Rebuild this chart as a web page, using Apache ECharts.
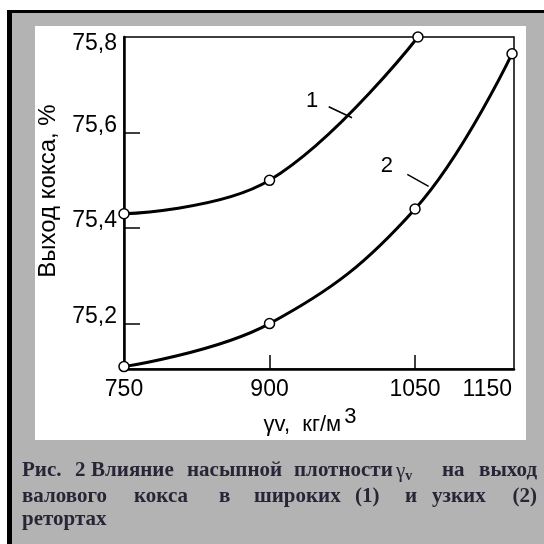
<!DOCTYPE html>
<html>
<head>
<meta charset="utf-8">
<script src="https://cdn.jsdelivr.net/npm/echarts@6.0.0/dist/echarts.min.js"></script>
<style>
  html, body { margin: 0; padding: 0; background: #fff; }
  #chart { width: 544px; height: 544px; }
</style>
</head>
<body>
<div id="chart"></div>
<script>
// кривая 1 - широкие реторты
const x1 = [750, 900, 1053];
const y1 = [75.43, 75.5, 75.8];
// кривая 2 - узкие реторты
const x2 = [750, 900, 1050, 1150];
const y2 = [75.11, 75.2, 75.44, 75.765];

const xLabelValues = [750, 900, 1050, 1150];
const xTickValues = [900, 1050];
const yLabelValues = [75.2, 75.4, 75.6, 75.8];
const yTickValues = [75.2, 75.4, 75.6];

// подписи кривых и выноски (в координатах данных)
const curveNames = ['1', '2'];
const curveLabelAt = [[944, 75.667], [1021, 75.531]];
const leaderFrom = [[961, 75.654], [1042, 75.5125]];
const leaderTo = [[985, 75.631], [1064, 75.4875]];

// подпись рисунка, по словам
const captionLines = [
  [['Рис.', 22], ['2', 75], ['Влияние', 91], ['насыпной', 187], ['плотности', 294], ['{g|γ}{s|v}', 396], ['на', 442], ['выход', 537]],
  [['валового', 22], ['кокса', 134], ['в', 219], ['широких', 254], ['(1)', 355], ['и', 405], ['узких', 432], ['(2)', 537]],
  [['ретортах', 22]]
];
const captionY = [471, 497, 520];

function pairs(xs, ys) {
  return xs.map(function (v, i) { return [v, ys[i]]; });
}

const captionColor = '#2a2536';
let graphics = [
  { type: 'rect', shape: { x: 7, y: 10, width: 537, height: 3 }, style: { fill: '#000' }, z: -10 },
  { type: 'rect', shape: { x: 7, y: 10, width: 5, height: 534 }, style: { fill: '#000' }, z: -10 },
  { type: 'rect', shape: { x: 12, y: 13, width: 532, height: 531 }, style: { fill: '#b3b3b3' }, z: -10 },
  { type: 'rect', shape: { x: 35, y: 26, width: 491, height: 414 }, style: { fill: '#fff' }, z: -9 }
];
captionLines.forEach(function (line, li) {
  line.forEach(function (w, wi) {
    const last = line.length > 1 && wi === line.length - 1;
    graphics.push({
      type: 'text',
      x: w[1],
      y: captionY[li],
      style: {
        text: w[0],
        fill: captionColor,
        font: 'bold 21px "Liberation Serif"',
        align: last ? 'right' : 'left',
        verticalAlign: 'middle',
        rich: {
          g: { fontFamily: 'Liberation Serif', fontSize: 21, fontWeight: 'normal', fill: captionColor },
          s: { fontFamily: 'Liberation Serif', fontSize: 14, fontWeight: 'bold', fill: captionColor, padding: [10, 0, 0, 0] }
        }
      }
    });
  });
});

function makeSeries(idx, xs, ys) {
  return {
    type: 'line',
    data: pairs(xs, ys),
    smooth: 0.4,
    clip: false,
    symbol: 'circle',
    symbolSize: 10,
    showAllSymbol: true,
    lineStyle: { color: '#000', width: 3 },
    itemStyle: { color: '#fff', borderColor: '#000', borderWidth: 1.5 },
    z: 5,
    markPoint: {
      symbol: 'circle',
      symbolSize: 0,
      label: { show: true, formatter: curveNames[idx], color: '#000', fontSize: 22, fontFamily: 'Liberation Sans', position: 'inside' },
      data: [{ coord: curveLabelAt[idx] }]
    },
    markLine: {
      silent: true,
      symbol: 'none',
      label: { show: false },
      lineStyle: { color: '#000', width: 1.5, type: 'solid' },
      data: [[{ coord: leaderFrom[idx] }, { coord: leaderTo[idx] }]]
    }
  };
}

const chart = echarts.init(document.getElementById('chart'));
const option = {
  backgroundColor: '#fff',
  animation: false,
  graphic: graphics,
  grid: {
    left: 124, top: 37, width: 390, height: 332,
    show: true, borderColor: '#000', borderWidth: 1.5, backgroundColor: 'transparent'
  },
  xAxis: {
    type: 'value',
    min: 750, max: 1152,
    name: '{a|γv,  кг/м}{s|3}',
    nameLocation: 'middle',
    nameGap: 33,
    nameTextStyle: {
      padding: [0, 18, 0, 0],
      rich: {
        a: { fontFamily: 'Liberation Sans', fontSize: 22, color: '#000' },
        s: { fontFamily: 'Liberation Sans', fontSize: 22, color: '#000', padding: [0, 0, 16, 3] }
      }
    },
    axisLine: { onZero: false, lineStyle: { color: '#000', width: 2.5 } },
    axisTick: { inside: true, length: 14, customValues: xTickValues, lineStyle: { color: '#000', width: 1.5 } },
    axisLabel: {
      customValues: xLabelValues, margin: 9, color: '#000',
      fontFamily: 'Liberation Sans', fontSize: 23, alignMaxLabel: 'right',
      formatter: function (v) { return String(v); }
    },
    splitLine: { show: false }
  },
  yAxis: {
    type: 'value',
    min: 75.105, max: 75.8,
    name: 'Выход кокса, %',
    nameLocation: 'middle',
    nameRotate: 90,
    nameGap: 64,
    nameTextStyle: { fontFamily: 'Liberation Sans', fontSize: 24, color: '#000', padding: [0, 0, 0, 24] },
    axisLine: { lineStyle: { color: '#000', width: 2.5 } },
    axisTick: { inside: true, length: 16, customValues: yTickValues, lineStyle: { color: '#000', width: 1.5 } },
    axisLabel: {
      customValues: yLabelValues, margin: 7, color: '#000',
      fontFamily: 'Liberation Sans', fontSize: 23,
      lineHeight: 14,
      verticalAlign: 'bottom',
      verticalAlignMaxLabel: 'top',
      formatter: function (v) { return v.toFixed(1).replace('.', ','); }
    },
    splitLine: { show: false }
  },
  series: [makeSeries(0, x1, y1), makeSeries(1, x2, y2)]
};
chart.setOption(option);
</script>
</body>
</html>
